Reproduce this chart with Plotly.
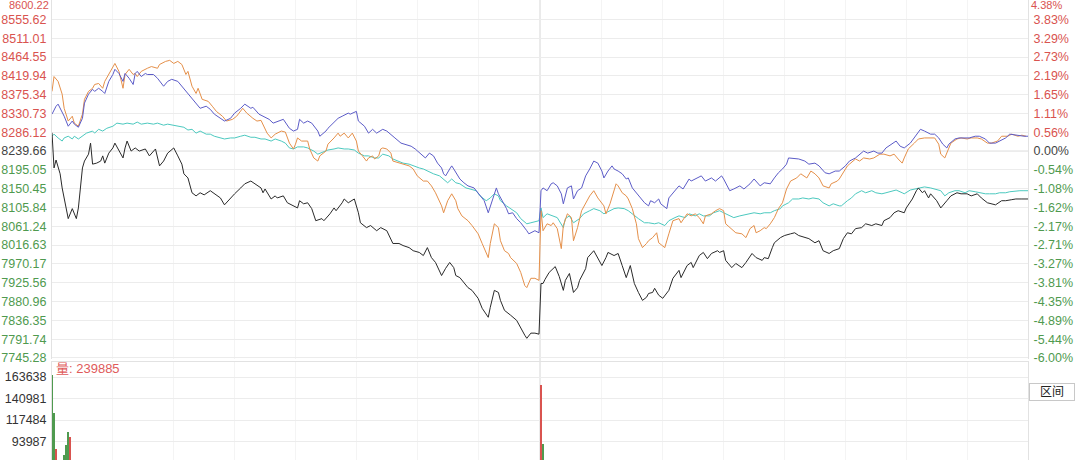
import plotly.graph_objects as go

# ---------------- data (percent change vs. previous close, minute index 0..481 over two sessions)
t_black = [0,1,2,4,5,8,10,12,13,15,
           16,18,19,20,22,24,25,26,28,30,
           31,33,35,36,37,39,41,43,46,48,
           51,53,55,57,60,62,64,65,67,69,
           71,73,75,78,80,83,85,88,90,93,
           95,98,100,103,104,105,108,110,111,114,
           116,119,121,122,124,126,128,130,133,134,
           137,139,140,143,144,146,149,151,152,155,
           157,160,162,165,166,168,171,173,176,178,
           181,183,185,187,189,192,194,196,198,199,
           201,203,205,207,210,212,215,216,218,220,
           221,223,225,226,229,231,233,234,236,238,
           240,241,242,243,245,248,250,252,253,255,
           257,259,260,263,264,267,269,271,273,274,
           277,279,281,283,285,287,289,291,293,294,
           296,297,299,301,304,306,309,310,313,315,
           316,319,321,323,325,328,329,331,332,335,
           337,340,342,345,347,350,351,353,355,356,
           359,361,364,366,368,371,373,376,378,380,
           383,385,388,390,392,394,396,399,401,404,
           406,409,410,413,415,417,420,421,424,426,
           427,429,430,432,433,436,438,441,443,446,
           448,451,453,456,458,461,463,465,468,470,
           473,475,478,480,481]
v_black = [0.53,-0.49,-0.26,-0.66,-1.07,-1.96,-1.67,-1.96,-1.65,-0.49,
           -0.29,-0.09,0.23,-0.38,-0.35,-0.29,-0.14,-0.35,-0.06,0.09,
           0.23,0.00,-0.20,0.09,0.29,0.00,0.09,0.00,0.06,-0.14,
           0.06,-0.43,-0.29,-0.06,0.09,-0.14,-0.38,-0.66,-0.78,-1.21,
           -1.30,-1.21,-1.27,-1.15,-1.24,-1.36,-1.56,-1.36,-1.24,-1.07,
           -0.95,-0.87,-0.95,-1.07,-1.21,-1.10,-1.39,-1.30,-1.36,-1.30,
           -1.50,-1.59,-1.65,-1.44,-1.53,-1.50,-1.67,-2.02,-1.96,-2.02,
           -1.82,-1.65,-1.73,-1.50,-1.39,-1.50,-1.39,-1.79,-2.08,-2.22,
           -2.16,-2.31,-2.22,-2.31,-2.45,-2.68,-2.68,-2.74,-2.80,-2.89,
           -2.94,-3.03,-2.80,-3.09,-3.23,-3.61,-3.40,-3.23,-3.38,-3.61,
           -3.67,-3.81,-3.96,-4.04,-4.27,-4.56,-4.82,-4.53,-4.04,-4.10,
           -4.33,-4.62,-4.70,-4.76,-4.91,-5.14,-5.34,-5.43,-5.28,-5.28,
           -5.31,-3.84,-3.84,-3.72,-3.52,-3.35,-3.64,-4.04,-3.75,-3.55,
           -4.10,-3.96,-3.75,-3.41,-3.09,-2.89,-3.12,-3.32,-3.09,-2.94,
           -3.03,-2.97,-3.32,-3.67,-3.32,-3.84,-4.10,-4.33,-4.24,-4.13,
           -4.10,-3.98,-4.18,-4.27,-4.04,-3.69,-3.46,-3.67,-3.32,-3.23,
           -3.38,-3.03,-2.94,-3.12,-2.97,-2.89,-2.94,-2.89,-3.17,-3.38,
           -3.26,-3.38,-3.23,-2.97,-3.09,-3.17,-3.09,-3.12,-2.80,-2.66,
           -2.51,-2.45,-2.40,-2.37,-2.45,-2.51,-2.54,-2.66,-2.60,-2.89,
           -2.97,-2.89,-2.83,-2.54,-2.37,-2.40,-2.25,-2.22,-2.11,-2.16,
           -2.11,-2.16,-2.02,-1.93,-1.79,-1.73,-1.79,-1.65,-1.39,-1.15,
           -1.07,-1.21,-1.15,-1.36,-1.24,-1.44,-1.65,-1.44,-1.30,-1.21,
           -1.24,-1.24,-1.30,-1.24,-1.36,-1.50,-1.53,-1.56,-1.44,-1.44,
           -1.41,-1.39,-1.39,-1.39,-1.39]

t_blue = [0,2,3,5,6,8,10,11,13,15,
          16,18,20,21,23,25,26,28,30,31,
          33,35,36,38,40,41,42,44,46,47,
          50,52,55,57,59,62,64,67,69,71,
          73,76,78,80,83,85,88,90,93,95,
          98,99,102,104,107,109,112,114,117,119,
          121,122,124,126,128,131,132,135,136,138,
          140,141,143,146,147,150,151,154,156,158,
          160,163,165,167,169,172,174,177,179,182,
          184,186,188,190,192,193,194,196,197,198,
          200,201,203,205,208,210,213,215,217,219,
          220,222,224,225,227,229,231,234,235,238,
          240,241,242,244,246,247,249,251,252,254,
          256,257,259,261,263,265,267,269,271,272,
          274,276,277,279,281,283,284,286,289,292,
          294,295,297,299,300,303,304,307,309,311,
          314,315,318,320,322,325,327,330,331,334,
          336,339,341,344,346,349,351,354,356,358,
          360,362,363,366,368,371,373,376,378,381,
          383,386,388,391,393,396,398,400,402,405,
          407,409,411,414,416,418,420,423,425,428,
          430,433,435,437,439,441,442,445,447,450,
          452,455,457,460,462,465,467,470,472,475,
          477,479,481]
v_blue = [1.07,1.30,1.36,1.15,1.01,0.72,0.87,0.78,0.69,0.95,
          1.39,1.65,1.79,1.73,1.82,1.73,1.67,2.02,2.22,2.37,
          2.25,2.02,2.25,2.11,1.93,2.25,2.31,2.16,2.25,2.22,
          2.22,2.11,1.88,2.02,2.08,2.02,1.88,1.67,1.50,1.36,
          1.24,1.30,1.21,1.07,0.95,0.87,0.95,1.10,1.24,1.36,
          1.24,1.27,1.07,1.01,0.92,0.81,0.87,0.92,0.66,0.58,
          0.63,0.92,0.81,0.87,0.81,0.58,0.43,0.58,0.66,0.78,
          0.87,0.95,1.01,1.10,1.07,1.15,0.87,0.72,0.52,0.63,
          0.52,0.63,0.58,0.49,0.38,0.23,0.20,0.14,0.06,-0.09,
          -0.20,-0.06,-0.14,-0.35,-0.49,-0.66,-0.72,-0.52,-0.43,-0.52,
          -0.72,-0.81,-0.92,-1.01,-1.07,-1.21,-1.44,-1.79,-1.44,-1.07,
          -1.24,-1.44,-1.67,-1.82,-1.79,-1.96,-2.08,-2.31,-2.40,-2.31,
          -2.37,-1.15,-1.07,-1.15,-0.95,-0.92,-1.01,-1.24,-1.53,-1.07,
          -1.01,-1.39,-1.15,-1.07,-0.72,-0.52,-0.29,-0.35,-0.58,-0.78,
          -0.58,-0.43,-0.52,-0.58,-0.66,-0.81,-0.78,-1.07,-1.30,-1.50,
          -1.59,-1.44,-1.50,-1.39,-1.53,-1.67,-1.36,-1.15,-1.01,-1.10,
          -0.81,-0.87,-0.78,-0.72,-0.87,-0.78,-0.87,-0.72,-0.81,-1.15,
          -1.10,-1.01,-1.10,-0.95,-0.81,-1.01,-0.92,-0.95,-0.78,-0.63,
          -0.52,-0.38,-0.20,-0.23,-0.23,-0.29,-0.38,-0.35,-0.43,-0.63,
          -0.66,-0.58,-0.58,-0.43,-0.29,-0.20,-0.09,0.00,-0.06,0.00,
          -0.06,-0.06,0.09,0.20,0.29,0.14,0.09,0.23,0.38,0.63,
          0.58,0.49,0.49,0.38,0.20,0.09,0.20,0.35,0.38,0.38,
          0.38,0.43,0.43,0.35,0.23,0.23,0.29,0.38,0.49,0.46,
          0.43,0.43,0.43]

t_orange = [0,1,3,5,6,8,10,11,13,15,
            16,18,20,21,23,25,26,28,30,31,
            33,35,36,38,40,41,42,44,47,49,
            52,53,56,58,60,62,64,66,67,69,
            71,72,74,77,79,81,84,86,89,91,
            94,96,99,101,103,104,106,108,110,113,
            115,117,119,120,121,123,126,127,129,131,
            132,135,136,139,141,142,144,146,148,150,
            151,153,155,156,158,159,161,162,163,165,
            167,168,171,173,176,178,180,183,185,187,
            189,192,193,195,197,199,200,202,205,207,
            210,212,215,216,218,220,221,223,225,226,
            229,231,233,234,236,238,240,241,242,244,
            246,247,249,251,252,254,256,257,259,261,
            263,265,267,269,272,273,275,277,278,279,
            281,283,284,286,288,289,291,293,294,296,
            298,299,302,304,306,309,310,313,315,317,
            319,321,322,325,327,329,331,332,335,337,
            340,342,344,346,347,349,351,352,354,356,
            358,360,362,364,367,369,372,374,376,378,
            380,383,384,387,388,389,392,393,396,398,
            400,403,405,408,410,413,415,417,419,420,
            422,425,427,430,432,435,437,438,440,442,
            443,446,448,451,453,456,458,461,463,466,
            468,471,473,476,478,480]
v_orange = [1.73,2.16,2.02,1.65,1.24,0.87,1.01,0.81,0.72,1.07,
            1.50,1.73,1.82,1.93,1.96,1.82,2.02,2.22,2.40,2.54,
            2.31,1.82,2.22,2.37,2.22,2.25,2.16,2.31,2.40,2.45,
            2.40,2.51,2.60,2.63,2.54,2.60,2.51,2.22,2.31,1.88,
            1.67,1.82,1.50,1.44,1.30,1.15,1.01,0.87,0.92,1.01,
            1.24,1.10,0.95,0.87,0.89,0.78,0.52,0.38,0.49,0.58,
            0.55,0.23,0.06,0.20,0.38,0.29,0.29,0.06,-0.20,-0.29,
            -0.14,0.00,0.20,0.38,0.52,0.43,0.52,0.38,0.52,0.29,
            0.00,-0.14,-0.29,-0.20,-0.14,-0.23,-0.14,0.06,0.09,0.06,
            -0.06,-0.29,-0.35,-0.38,-0.43,-0.52,-0.72,-0.87,-0.87,-1.01,
            -1.21,-1.59,-1.79,-1.44,-1.24,-1.44,-1.67,-1.88,-2.02,-2.16,
            -2.40,-2.68,-3.09,-2.68,-2.11,-2.22,-2.60,-2.89,-2.97,-3.09,
            -3.26,-3.52,-3.90,-3.96,-3.69,-3.69,-3.75,-1.73,-2.31,-2.11,
            -2.16,-2.08,-2.25,-2.83,-2.16,-1.82,-1.93,-2.60,-2.22,-1.73,
            -1.53,-1.30,-1.15,-1.36,-1.59,-1.82,-1.53,-1.15,-0.95,-1.01,
            -1.21,-1.30,-1.39,-1.67,-2.11,-2.54,-2.80,-2.68,-2.60,-2.51,
            -2.37,-2.66,-2.80,-2.40,-2.02,-1.96,-2.08,-1.82,-1.88,-1.82,
            -1.93,-2.11,-1.88,-1.82,-1.73,-1.67,-1.73,-2.11,-2.25,-2.37,
            -2.40,-2.51,-2.25,-2.16,-2.37,-2.31,-2.22,-2.25,-2.11,-1.93,
            -1.67,-1.50,-1.10,-0.87,-0.78,-0.66,-0.78,-0.58,-0.66,-0.78,
            -1.01,-1.07,-0.95,-0.87,-0.81,-0.72,-0.43,-0.38,-0.23,-0.29,
            -0.20,-0.23,-0.20,-0.09,-0.09,-0.14,-0.09,-0.23,-0.35,-0.20,
            0.06,0.23,0.35,0.38,0.38,0.38,0.20,-0.09,-0.20,0.06,
            0.23,0.35,0.38,0.35,0.38,0.38,0.35,0.23,0.23,0.29,
            0.43,0.43,0.49,0.43,0.46,0.43]

t_cyan = [0,1,3,5,6,8,10,11,13,15,
          17,20,21,23,25,27,30,32,35,37,
          40,42,44,47,50,52,55,57,60,62,
          65,67,69,71,73,76,78,80,83,85,
          88,90,93,95,98,100,103,105,108,110,
          113,115,117,119,121,124,126,129,131,134,
          136,139,141,144,146,149,151,154,156,159,
          161,163,166,168,171,173,176,178,181,183,
          186,188,191,193,195,197,199,201,204,206,
          209,211,214,216,218,220,221,224,226,229,
          231,234,236,238,240,241,242,244,247,249,
          252,253,255,257,260,262,265,267,270,272,
          275,277,279,282,284,287,289,292,294,297,
          299,302,304,307,309,312,314,317,319,321,
          324,326,329,331,334,336,339,341,344,346,
          349,351,354,356,359,360,363,365,368,370,
          373,375,378,380,383,385,388,389,392,394,
          396,399,401,404,406,409,411,414,416,419,
          420,423,425,428,430,433,435,438,440,442,
          445,447,450,452,455,457,460,462,465,467,
          470,472,475,477,479,481]
v_cyan = [0.43,0.49,0.38,0.29,0.38,0.43,0.35,0.43,0.35,0.43,
          0.52,0.58,0.52,0.63,0.58,0.66,0.72,0.81,0.78,0.81,
          0.78,0.84,0.78,0.81,0.78,0.81,0.75,0.78,0.75,0.72,
          0.69,0.61,0.63,0.52,0.58,0.49,0.49,0.43,0.38,0.35,
          0.38,0.38,0.43,0.46,0.40,0.40,0.35,0.35,0.29,0.35,
          0.29,0.23,0.09,0.06,0.12,0.12,0.09,0.00,-0.09,-0.03,
          0.03,0.06,0.09,0.06,0.06,0.03,-0.06,-0.14,-0.14,-0.20,
          -0.20,-0.09,-0.14,-0.23,-0.29,-0.35,-0.38,-0.43,-0.49,-0.52,
          -0.61,-0.66,-0.72,-0.81,-0.92,-0.81,-0.92,-0.95,-1.07,-1.10,
          -1.15,-1.30,-1.44,-1.36,-1.24,-1.30,-1.44,-1.59,-1.67,-1.79,
          -1.96,-2.11,-2.08,-2.05,-2.02,-1.65,-1.93,-1.82,-1.88,-1.93,
          -2.22,-1.96,-1.88,-2.08,-1.96,-1.82,-1.73,-1.67,-1.73,-1.82,
          -1.73,-1.67,-1.65,-1.67,-1.73,-1.88,-1.96,-2.08,-2.08,-2.11,
          -2.08,-2.16,-2.02,-1.93,-1.88,-1.93,-1.82,-1.88,-1.82,-1.88,
          -1.88,-1.79,-1.73,-1.79,-1.88,-1.93,-1.88,-1.85,-1.82,-1.79,
          -1.82,-1.79,-1.79,-1.73,-1.67,-1.59,-1.50,-1.39,-1.39,-1.36,
          -1.39,-1.36,-1.39,-1.50,-1.59,-1.53,-1.59,-1.59,-1.44,-1.36,
          -1.24,-1.15,-1.21,-1.15,-1.21,-1.24,-1.21,-1.15,-1.13,-1.21,
          -1.24,-1.13,-1.10,-1.07,-1.04,-1.07,-1.10,-1.15,-1.30,-1.21,
          -1.15,-1.15,-1.21,-1.15,-1.18,-1.21,-1.24,-1.24,-1.24,-1.21,
          -1.21,-1.18,-1.15,-1.15,-1.15,-1.15]

# volume (only bars tall enough to be visible)
vol_t = [0, 1, 2, 6, 7, 8, 9, 241, 242]
vol_v = [165800, 124300, 84900, 78400, 89300, 103500, 98100, 154900, 90400]
vol_dir = [-1, -1, 1, -1, -1, -1, 1, 1, -1]

price_labels = ["8600.22", "8555.62", "8511.01", "8464.55", "8419.94", "8375.34", "8330.73",
                "8286.12", "8239.66", "8195.05", "8150.45", "8105.84", "8061.24", "8016.63",
                "7970.17", "7925.56", "7880.96", "7836.35", "7791.74", "7745.28"]
pct_labels = ["4.38%", "3.83%", "3.29%", "2.73%", "2.19%", "1.65%", "1.11%", "0.56%", "0.00%",
              "-0.54%", "-1.08%", "-1.62%", "-2.17%", "-2.71%", "-3.27%", "-3.81%", "-4.35%",
              "-4.89%", "-5.44%", "-6.00%"]
vol_labels = ["163638", "140981", "117484", "93987"]
vol_label_text = "量: 239885"
range_button = "区间"

for a, b in [(t_black, v_black), (t_blue, v_blue), (t_orange, v_orange), (t_cyan, v_cyan)]:
    assert len(a) == len(b), (len(a), len(b))

# ---------------- styling
RED = "#d9534f"
GREEN = "#4f9a4f"
GRAY = "#444444"
FONT = "Arial, Liberation Sans, Noto Sans CJK SC, sans-serif"
GRID = "#ececec"

step = 6 / 11
n_up = 8
price_tickvals = [(n_up - k) * step for k in range(len(price_labels))]


def colored(lbls):
    out = []
    for i, s in enumerate(lbls):
        c = RED if i < n_up else (GRAY if i == n_up else GREEN)
        out.append(f"<span style='color:{c}'>{s}</span>")
    return out


vol_step = 23497
vol_tickvals = [163638 - k * vol_step for k in range(len(vol_labels))]

half_hour_grid = [30, 60, 90, 120, 150, 180, 210, 271, 301, 331, 361, 391, 421, 451]

fig = go.Figure()
for t, v, c in [(t_cyan, v_cyan, "#4cc9bf"), (t_orange, v_orange, "#e5904a"),
                (t_blue, v_blue, "#5c5cc8"), (t_black, v_black, "#2a2a2a")]:
    fig.add_trace(go.Scatter(x=t, y=v, mode="lines", line=dict(color=c, width=1),
                             hoverinfo="skip", showlegend=False, xaxis="x", yaxis="y"))

# helper trace so right percentage axis is rendered
fig.add_trace(go.Scatter(x=[0], y=[0], mode="markers", marker=dict(opacity=0),
                         hoverinfo="skip", showlegend=False, xaxis="x", yaxis="y2"))

fig.add_trace(go.Bar(x=vol_t, y=vol_v, width=0.6,
                     marker=dict(color=[RED if d > 0 else GREEN for d in vol_dir], line=dict(width=0)),
                     hoverinfo="skip", showlegend=False, xaxis="x2", yaxis="y3"))

yr = [-6.03, 4.38]
common_x = dict(range=[0, 481], showticklabels=False, ticks="", tickvals=half_hour_grid,
                showgrid=True, gridcolor="#f4f4f4", zeroline=False, automargin=False)

# top tick drawn as small annotations, kept just inside the window edge
top_font = dict(size=11, color=RED, family=FONT)
top_labels = [
    dict(text=price_labels[0], xref="paper", yref="paper", x=0, y=1, xanchor="right",
         yanchor="top", xshift=-2, yshift=2, borderpad=0, showarrow=False, font=top_font),
    dict(text=pct_labels[0], xref="paper", yref="paper", x=1, y=1, xanchor="left",
         yanchor="top", xshift=2, yshift=2, borderpad=0, showarrow=False, font=top_font),
]

fig.update_layout(
    width=1080, height=460,
    margin=dict(l=52, r=52, t=0, b=0, autoexpand=False),
    paper_bgcolor="white", plot_bgcolor="white",
    font=dict(family=FONT, size=12.5, color=GRAY),
    bargap=0,
    xaxis=dict(domain=[0, 1], anchor="y", showline=False, **common_x),
    xaxis2=dict(domain=[0, 1], anchor="y3", showline=True, mirror=True, linecolor="#e2e2e2", **common_x),
    yaxis=dict(domain=[1 - 359 / 460, 1], range=yr, tickvals=price_tickvals, ticktext=colored(price_labels),
               showgrid=True, gridcolor=GRID, zeroline=False, showline=True, linecolor="#e2e2e2",
               ticks="", ticklabelstandoff=2, tickfont=dict(size=12.5), automargin=False),
    yaxis2=dict(overlaying="y", side="right", range=yr, tickvals=price_tickvals, ticktext=colored(pct_labels),
                showgrid=False, zeroline=False, showline=True, linecolor="#e2e2e2", ticks="",
                ticklabelstandoff=2, tickfont=dict(size=12.5), automargin=False),
    yaxis3=dict(domain=[0, 98 / 460], range=[72929, 180031], tickvals=vol_tickvals, ticktext=vol_labels,
                showgrid=True, gridcolor=GRID, zeroline=False, showline=True, mirror=True,
                linecolor="#e2e2e2", ticks="", ticklabelstandoff=2,
                tickfont=dict(size=12.5, color="#333333"), automargin=False),
    shapes=[
        dict(type="line", xref="x", yref="paper", x0=240.5, x1=240.5, y0=0, y1=1,
             line=dict(color="#d6d6d6", width=1), layer="below"),
        dict(type="line", xref="paper", yref="y", x0=0, x1=1, y0=0, y1=0,
             line=dict(color="#dcdcdc", width=1), layer="below"),
    ],
    annotations=top_labels + [
        dict(text=vol_label_text, xref="paper", yref="paper", x=0.002, y=(460 - 368) / 460,
             xanchor="left", yanchor="middle", showarrow=False,
             font=dict(size=13, color="#e05a5a", family=FONT)),
        dict(text=range_button, xref="paper", yref="paper", x=(1052 - 52) / 976, y=(460 - 392) / 460,
             xanchor="center", yanchor="middle", showarrow=False, bgcolor="white",
             bordercolor="#c8c8c8", borderwidth=1, width=42, height=14,
             font=dict(size=12, color="#222222", family=FONT)),
    ],
)

fig.write_html("out.html", config={"displayModeBar": False},
               post_script="document.body.style.margin='0';document.body.style.overflow='hidden';")
